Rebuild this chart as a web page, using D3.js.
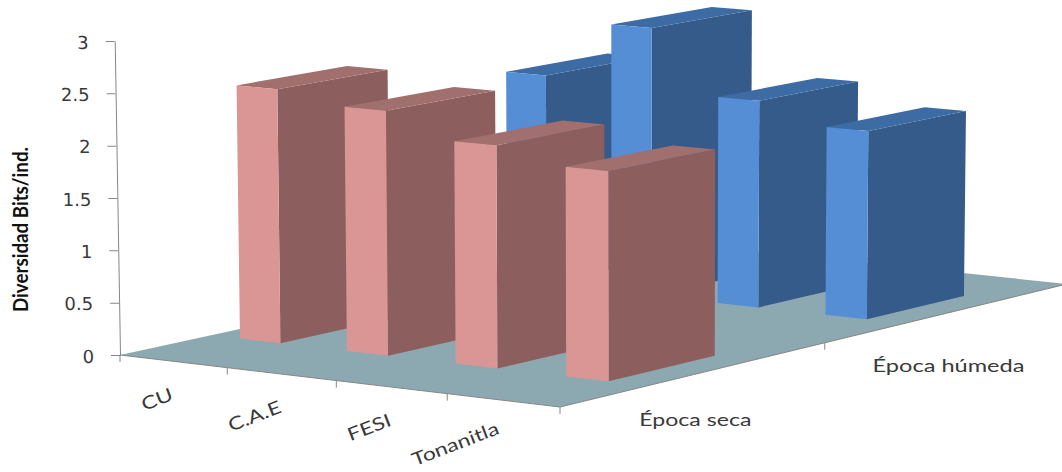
<!DOCTYPE html>
<html lang="es">
<head>
<meta charset="utf-8">
<title>Diversidad por sitio y época</title>
<script src="https://cdn.jsdelivr.net/npm/d3@7/dist/d3.min.js"></script>
<style>
  html, body { margin: 0; padding: 0; background: #fff; }
  svg { display: block; }
  text { font-family: Lato, "Open Sans", sans-serif; fill: #3a3a3a; }
</style>
</head>
<body>
<svg id="chart" width="1062" height="472"></svg>
<script>
// Site names, seasons and diversity values (bits/ind.)
const categories = ["CU", "C.A.E", "FESI", "Tonanitla"];
const seasons = ["Época seca", "Época húmeda"];
const epocaSeca = [2.45, 2.34, 2.11, 1.97];
const epocaHumeda = [2.11, 2.68, 2.05, 1.85];
const yTicks = [0, 0.5, 1, 1.5, 2, 2.5, 3];

const width = 1062, height = 472;
const svg = d3.select("#chart");

// Floor corners on screen: left, front, right, back
const floorQuad = [[120, 355], [560, 407], [1067, 284], [648, 240]];
const horizonY = -950;      // bars shrink linearly toward this line
const plumbX = 639;         // vertical edges lean away from this column
const plumbLean = 1 / 29600;

// Homography from the unit square (u along sites, v along seasons) to the floor
function makeFloor([p0, p1, p2, p3]) {
  const dx1 = p1[0] - p2[0], dx2 = p3[0] - p2[0], sx = p0[0] - p1[0] + p2[0] - p3[0];
  const dy1 = p1[1] - p2[1], dy2 = p3[1] - p2[1], sy = p0[1] - p1[1] + p2[1] - p3[1];
  const den = dx1 * dy2 - dx2 * dy1;
  const g = (sx * dy2 - dx2 * sy) / den, h = (dx1 * sy - sx * dy1) / den;
  const a = p1[0] - p0[0] + g * p1[0], b = p3[0] - p0[0] + h * p3[0];
  const d = p1[1] - p0[1] + g * p1[1], e = p3[1] - p0[1] + h * p3[1];
  return (u, v) => {
    const w = g * u + h * v + 1;
    return [(a * u + b * v + p0[0]) / w, (d * u + e * v + p0[1]) / w];
  };
}
const floor = makeFloor(floorQuad);

// Scales: value to screen height at the axis corner, and band positions on the floor
const yScale = d3.scaleLinear().domain([0, 3]).range([355, 41]);
const uScale = d3.scaleBand().domain(categories).range([-0.0085, 0.9915]).paddingInner(0.62).paddingOuter(0.31);
const vScale = d3.scaleBand().domain(seasons).range([0.01, 1.01]).paddingInner(0.6).paddingOuter(0.3);

// Full projection of a point on the floor raised to a given value
function project(u, v, value) {
  const [x, y] = floor(u, v);
  const rise = (yScale(0) - yScale(value)) * (y - horizonY) / (yScale(0) - horizonY);
  return [x + (x - plumbX) * rise * plumbLean, y - rise];
}

const polygon = pts => "M" + pts.map(p => p.map(n => n.toFixed(2)).join(",")).join("L") + "Z";

// Floor plane
svg.append("path")
  .attr("d", polygon([floor(0, 0), floor(1, 0), floor(1, 1), floor(0, 1)]))
  .attr("fill", "#8ca8b0");

// Front edges of the floor with their tick marks
const axisColor = "#868686";
svg.append("path")
  .attr("d", "M" + [floor(0, 0), floor(1, 0), floor(1, 1)].join("L"))
  .attr("fill", "none").attr("stroke", axisColor).attr("stroke-width", 1);

const uStep = 1 / categories.length, vStep = 1 / seasons.length;
svg.append("g").selectAll("line")
  .data(d3.range(categories.length + 1).map(i => floor(i * uStep, 0))
    .concat(d3.range(1, seasons.length).map(i => floor(1, i * vStep))))
  .join("line")
  .attr("x1", d => d[0]).attr("y1", d => d[1])
  .attr("x2", d => d[0]).attr("y2", d => d[1] + 7)
  .attr("stroke", axisColor);

// Value axis, leaning with the perspective
const yAxis = d3.axisLeft(yScale)
  .tickValues(yTicks)
  .tickFormat(d => String(d))
  .tickSize(9).tickSizeOuter(0).tickPadding(17);
const axisG = svg.append("g")
  .attr("transform", `matrix(1,0,0.0169,1,${120 - 0.0169 * 355},0)`)
  .call(yAxis);
axisG.selectAll("path, line").attr("stroke", axisColor);
axisG.selectAll("text").attr("font-size", 18).attr("fill", "#3a3a3a").attr("dy", "0.4em")
  .style("font-family", "'DejaVu Sans', sans-serif");

// Bars, painted back to front
const barRows = [
  { season: seasons[1], values: epocaHumeda, front: "#558ed5", side: "#355b8a", top: "#3d6ba4" },
  { season: seasons[0], values: epocaSeca, front: "#d99694", side: "#8c5f5e", top: "#a26f6f" }
];
barRows.forEach(row => {
  const v0 = vScale(row.season), v1 = v0 + vScale.bandwidth();
  const g = svg.append("g");
  categories.forEach((cat, i) => {
    const u0 = uScale(cat), u1 = u0 + uScale.bandwidth(), val = row.values[i];
    const bar = g.append("g");
    bar.append("path").attr("fill", row.side)
      .attr("d", polygon([project(u1, v0, 0), project(u1, v1, 0), project(u1, v1, val), project(u1, v0, val)]));
    bar.append("path").attr("fill", row.top)
      .attr("d", polygon([project(u0, v0, val), project(u1, v0, val), project(u1, v1, val), project(u0, v1, val)]));
    bar.append("path").attr("fill", row.front)
      .attr("d", polygon([project(u0, v0, 0), project(u1, v0, 0), project(u1, v0, val), project(u0, v0, val)]));
  });
});

// Site labels under the left floor edge; the longest name sits a little higher to stay on the page
categories.forEach((cat, i) => {
  const [x, y] = floor((i + 0.5) * uStep, 0);
  const last = i === categories.length - 1;
  svg.append("text")
    .attr("transform", `translate(${x + (last ? -3 : 1)},${y + (last ? 33 : 38)}) rotate(-21) scale(1.28,1)`)
    .attr("text-anchor", "end")
    .attr("font-size", 18)
    .text(cat);
});

// Season labels under the right floor edge
seasons.forEach((s, i) => {
  const [x, y] = floor(1, (i + 0.5) * vStep);
  svg.append("text")
    .attr("x", x).attr("y", y + 52 + 7 * i)
    .attr("text-anchor", "middle")
    .attr("font-size", 18)
    .attr("textLength", i === 0 ? 112 : 152)
    .attr("lengthAdjust", "spacingAndGlyphs")
    .text(s);
});

// Value axis title
svg.append("text")
  .attr("transform", "translate(28,229.5) rotate(-90)")
  .attr("text-anchor", "middle")
  .attr("font-size", 20)
  .attr("font-weight", 700)
  .style("fill", "#111")
  .attr("textLength", 165)
  .attr("lengthAdjust", "spacingAndGlyphs")
  .text("Diversidad Bits/ind.");
</script>
</body>
</html>
